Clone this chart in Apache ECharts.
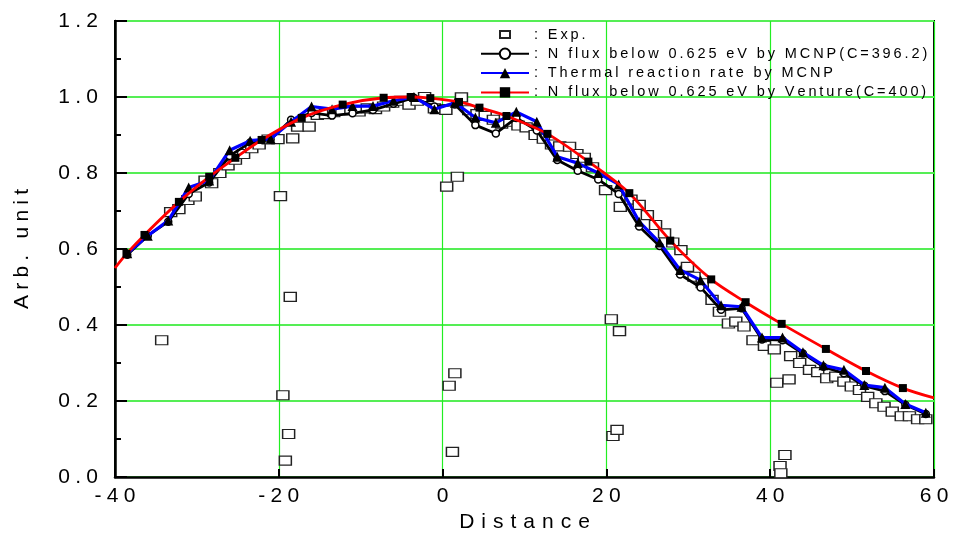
<!DOCTYPE html>
<html>
<head>
<meta charset="utf-8">
<script src="https://cdn.jsdelivr.net/npm/echarts@6/dist/echarts.min.js"></script>
<style>
  html, body { margin: 0; padding: 0; background: #fff; }
  #chart { width: 955px; height: 544px; }
</style>
</head>
<body>
<div id="chart"></div>
<script>
'use strict';

// MCNP mesh positions (both MCNP curves share them)
var mcnpX = [-38.5, -36, -33.5, -31, -28.5, -26, -23.5, -21, -18.5, -16,
    -13.5, -11, -8.5, -6, -3.5, -1, 1.5, 4, 6.5, 9,
    11.5, 14, 16.5, 19, 21.5, 24, 26.5, 29, 31.5, 34,
    36.5, 39, 41.5, 44, 46.5, 49, 51.5, 54, 56.5, 59];
var fluxMcnp = [0.585, 0.635, 0.672, 0.745, 0.775, 0.845, 0.880, 0.888, 0.940, 0.958,
    0.951, 0.957, 0.966, 0.982, 0.998, 0.975, 0.980, 0.926, 0.904, 0.945,
    0.912, 0.834, 0.806, 0.783, 0.745, 0.659, 0.608, 0.533, 0.499, 0.440,
    0.444, 0.362, 0.360, 0.325, 0.290, 0.273, 0.240, 0.226, 0.190, 0.166];
var rateMcnp = [0.589, 0.635, 0.675, 0.762, 0.780, 0.860, 0.885, 0.890, 0.935, 0.975,
    0.968, 0.976, 0.976, 0.990, 1.000, 0.968, 0.985, 0.946, 0.932, 0.961,
    0.935, 0.843, 0.826, 0.800, 0.770, 0.672, 0.617, 0.545, 0.518, 0.452,
    0.448, 0.367, 0.367, 0.328, 0.294, 0.282, 0.242, 0.235, 0.192, 0.169];

// Venture curve, first and last points are the curve ends (no marker)
var ventX = [-40, -38.6, -36.4, -32.2, -28.5, -25.3, -22.1, -17.2, -12.2, -7.2, -3.9, -1.5,
    2.0, 4.5, 7.8, 12.8, 17.8, 22.8, 27.8, 32.8, 37.0, 41.4, 46.8, 51.7, 56.2, 60];
var ventY = [0.550, 0.587, 0.637, 0.724, 0.790, 0.840, 0.887, 0.945, 0.980, 0.998, 1.000, 0.997,
    0.987, 0.972, 0.950, 0.903, 0.830, 0.747, 0.622, 0.520, 0.460, 0.403, 0.337, 0.279, 0.234, 0.208];

// measured points
var expX = [-34.3, -33.2, -32.2, -31.1, -30.2, -29.0, -28.2, -27.2, -26.2, -25.3,
    -24.3, -23.3, -22.4, -21.3, -20.1, -19.8, -19.5, -19.2, -18.8, -18.6,
    -18.3, -17.7, -16.3, -15.3, -14.3, -13.3, -12.3, -11.2, -10.2, -9.2,
    -8.2, -7.2, -6.1, -5.1, -4.1, -3.1, -2.2, -1.0, 0.4, 0.5,
    0.8, 1.2, 1.5, 1.8, 2.3, 3.2, 4.2, 5.2, 6.2, 7.2,
    8.2, 9.2, 10.2, 11.3, 12.3, 13.3, 14.3, 15.5, 16.4, 17.3,
    18.3, 19.9, 20.6, 20.8, 21.3, 21.6, 21.7, 23.0, 24.0, 25.0,
    26.0, 27.1, 28.1, 29.1, 29.9, 30.7, 31.7, 32.9, 33.8, 34.9,
    35.8, 36.8, 37.9, 39.3, 40.5, 40.8, 41.2, 41.3, 41.8, 42.3,
    42.5, 43.6, 44.8, 45.8, 46.9, 48.0, 49.0, 49.9, 50.9, 51.9,
    52.9, 53.9, 54.9, 56.0, 57.0, 58.0, 59.0];
var expY = [0.360, 0.697, 0.705, 0.729, 0.738, 0.780, 0.773, 0.800, 0.820, 0.835,
    0.850, 0.865, 0.875, 0.888, 0.889, 0.739, 0.215, 0.043, 0.113, 0.474,
    0.891, 0.922, 0.922, 0.953, 0.955, 0.960, 0.965, 0.965, 0.962, 0.970,
    0.968, 0.975, 0.985, 0.990, 0.980, 0.990, 1.000, 0.970, 0.966, 0.764,
    0.240, 0.066, 0.273, 0.790, 0.999, 0.965, 0.955, 0.950, 0.940, 0.930,
    0.935, 0.925, 0.920, 0.900, 0.890, 0.875, 0.870, 0.869, 0.850, 0.840,
    0.815, 0.755, 0.415, 0.108, 0.124, 0.384, 0.711, 0.730, 0.716, 0.689,
    0.663, 0.641, 0.617, 0.597, 0.553, 0.527, 0.510, 0.466, 0.435, 0.404,
    0.409, 0.396, 0.360, 0.345, 0.336, 0.248, 0.029, 0.010, 0.058, 0.257,
    0.318, 0.300, 0.282, 0.276, 0.260, 0.264, 0.251, 0.238, 0.229, 0.211,
    0.194, 0.185, 0.172, 0.160, 0.160, 0.152, 0.152];

var seriesNames = ['Exp.', 'N flux below 0.625 eV by MCNP(C=396.2)',
    'Thermal reaction rate by MCNP', 'N flux below 0.625 eV by Venture(C=400)'];

var FONT = '"Liberation Sans", Arial, sans-serif';

// the original text is loosely tracked, pad chars with narrow spaces
function spaced(s, sp) {
    return String(s).split('').join(sp || '\u2009');
}
function pairs(xs, ys) {
    return xs.map(function (x, i) { return [x, ys[i]]; });
}

var ventData = ventX.map(function (x, i) {
    var item = { value: [x, ventY[i]] };
    if (i === 0 || i === ventX.length - 1) item.symbol = 'none';
    return item;
});

var option = {
    animation: false,
    backgroundColor: '#fff',
    textStyle: { fontFamily: FONT },
    grid: {
        left: 115, right: 21, top: 21, bottom: 67,
        show: true, borderColor: '#000', borderWidth: 2
    },
    legend: {
        orient: 'vertical',
        left: 475, top: 22,
        itemWidth: 48, itemHeight: 13, itemGap: 4.3,
        textStyle: { fontFamily: FONT, fontSize: 14.5, color: '#000' },
        formatter: function (name) { return spaced(': ' + name); },
        data: [
            // small square in the middle of the 48x13 icon box
            { name: seriesNames[0], icon: 'path://M0,0M48,13M19,3h10v7h-10z' },
            seriesNames[1], seriesNames[2], seriesNames[3]
        ]
    },
    xAxis: {
        type: 'value', min: -40, max: 60, interval: 20,
        name: spaced('Distance', '\u2004'),
        nameLocation: 'middle', nameGap: 33,
        nameTextStyle: { fontFamily: FONT, fontSize: 21, color: '#000' },
        axisLine: { onZero: false, lineStyle: { color: '#000', width: 2.5 } },
        axisTick: { inside: true, length: 8, lineStyle: { color: '#000', width: 2 } },
        axisLabel: {
            margin: 9, fontFamily: FONT, fontSize: 21, color: '#000',
            formatter: function (v) { return spaced(v, '\u2005'); }
        },
        splitLine: { lineStyle: { color: '#22ee22', width: 1.2 } }
    },
    yAxis: {
        type: 'value', min: 0, max: 1.2, interval: 0.2,
        name: spaced('Arb. unit', '\u2005'),
        nameLocation: 'middle', nameGap: 82, nameRotate: 90,
        nameTextStyle: { fontFamily: FONT, fontSize: 21, color: '#000' },
        axisLine: { onZero: false, lineStyle: { color: '#000', width: 2.5 } },
        axisTick: { inside: true, length: 12, lineStyle: { color: '#000', width: 2 } },
        minorTick: { show: true, splitNumber: 2, length: 6, lineStyle: { color: '#000', width: 2 } },
        axisLabel: {
            margin: 17, fontFamily: FONT, fontSize: 21, color: '#000',
            formatter: function (v) { return spaced(v.toFixed(1), '\u2005'); }
        },
        splitLine: { lineStyle: { color: '#55ee55', width: 1.8 } }
    },
    series: [
        {
            name: seriesNames[0], type: 'scatter', z: 1,
            symbol: 'rect', symbolSize: [12, 9],
            itemStyle: { color: '#fff', borderColor: '#222', borderWidth: 1.3, opacity: 1 },
            data: pairs(expX, expY)
        },
        {
            name: seriesNames[1], type: 'line', z: 3,
            symbol: 'circle', symbolSize: 7, showAllSymbol: true,
            lineStyle: { color: '#000', width: 2.8 },
            itemStyle: { color: '#fff', borderColor: '#000', borderWidth: 1.5 },
            data: pairs(mcnpX, fluxMcnp)
        },
        {
            name: seriesNames[2], type: 'line', z: 4,
            symbol: 'triangle', symbolSize: 10, showAllSymbol: true,
            lineStyle: { color: '#0000ff', width: 3.2 },
            itemStyle: { color: '#000', borderColor: '#000', borderWidth: 0 },
            data: pairs(mcnpX, rateMcnp)
        },
        {
            name: seriesNames[3], type: 'line', z: 5, smooth: 0.3,
            symbol: 'rect', symbolSize: 8, showAllSymbol: true,
            lineStyle: { color: '#ff0000', width: 2.8 },
            itemStyle: { color: '#000', borderColor: '#000', borderWidth: 0 },
            data: ventData
        }
    ]
};

var myChart = echarts.init(document.getElementById('chart'));
myChart.setOption(option);
</script>
</body>
</html>
